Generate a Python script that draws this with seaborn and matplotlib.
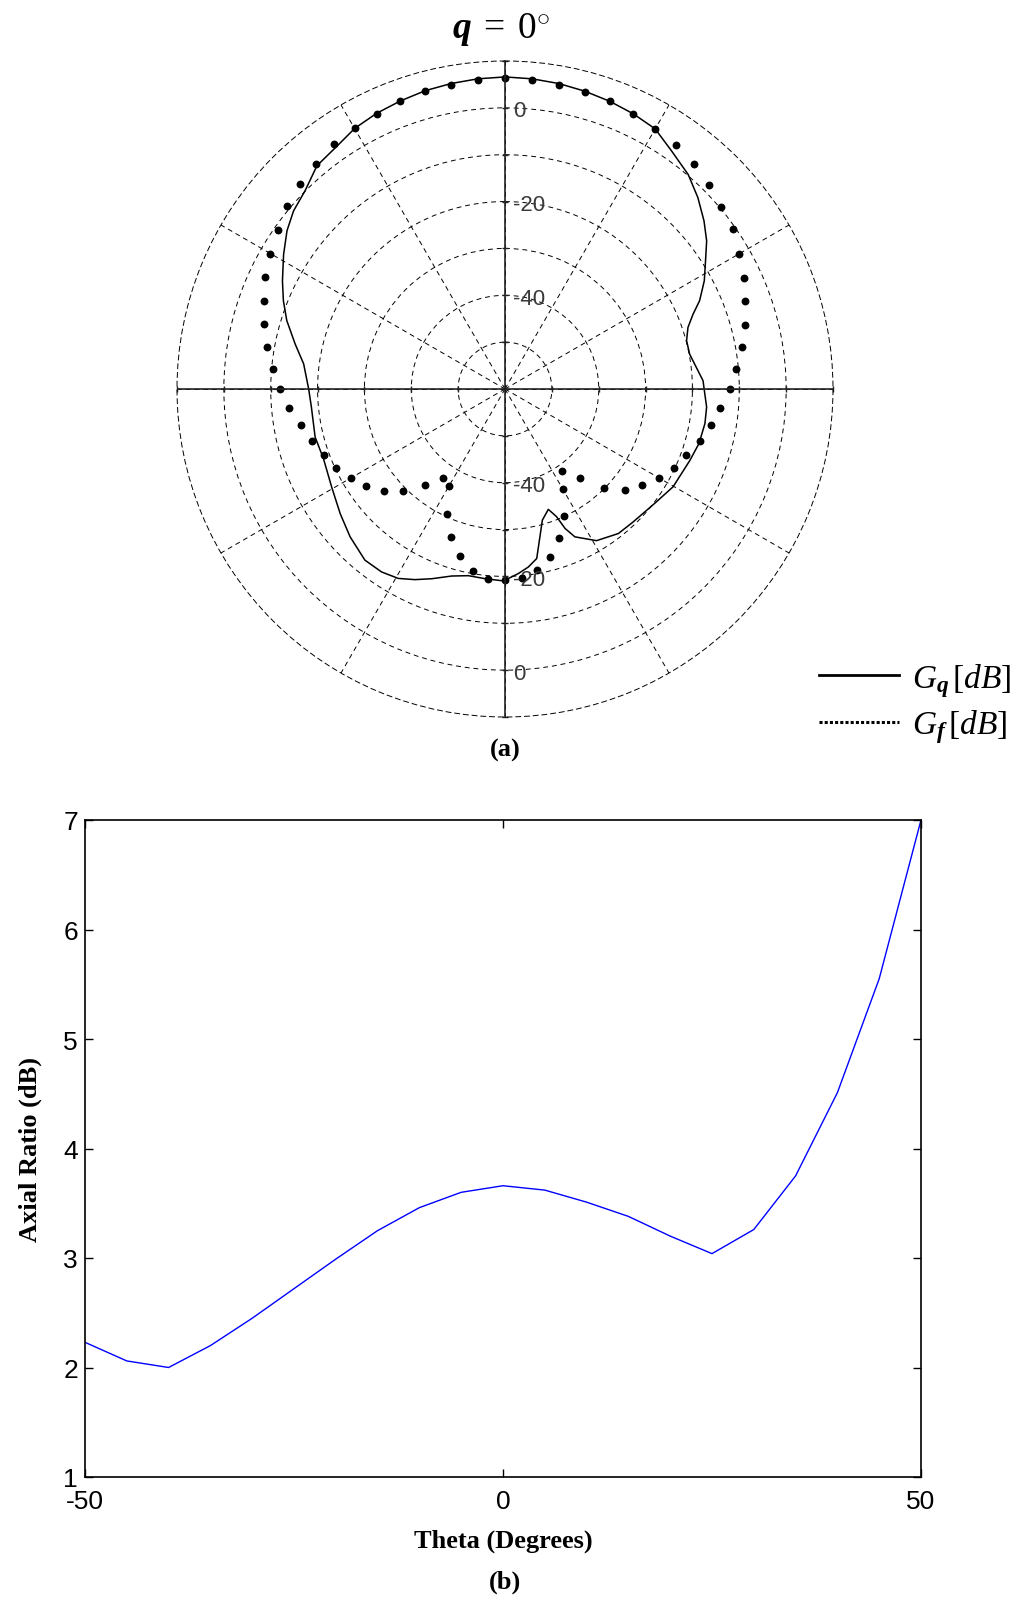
import numpy as np
import pandas as pd
import matplotlib
matplotlib.use("Agg")
import matplotlib.pyplot as plt
import seaborn as sns
from matplotlib.lines import Line2D
from matplotlib.transforms import offset_copy

# ---------------- data ----------------
# (a) radiation pattern, angle measured from zenith (clockwise positive), gain in dB
g_phi_angle = np.arange(-175, 181, 5)
g_phi_db = [-19.4, -20.6, -23.0, -26.4, -30.6, -36.0, -36.9, -33.3, -29.3, -26.3,
            -23.9, -22.0, -20.2, -18.8, -17.4, -15.7, -13.8, -12.0, -10.4, -8.4,
            -6.8, -5.3, -3.6, -2.2, -0.8, 0.7, 1.9, 2.8, 3.7, 4.2,
            4.8, 5.3, 5.8, 5.9, 6.2, 6.3, 6.1, 5.8, 5.7, 5.3,
            4.8, 4.0, 3.5, 2.6, 1.6, 0.3, -0.6, -2.3, -3.7, -5.4,
            -6.9, -8.6, -10.6, -12.0, -13.9, -15.4, -17.0, -18.8, -20.2, -22.1,
            -24.2, -26.6, -30.1, -35.1, -38.7, -35.4, -30.1, -26.1, -22.8, -20.8,
            -19.5, -19.2]

g_theta_angle = [-180, -174, -168.9, -164.1, -158.9, -154.7, -150.6, -146, -140.7, -133.7,
                 -127.1, -119.5, -111, -104.2, -95.3, -90, -82.9, -77.9, -72.6, -68.3,
                 -64.1, -58.7, -54, -49.9, -45.2, -40.1, -34.3, -30, -25, -20,
                 -15, -10, -5, 0, 5, 10, 15, 20, 25, 30,
                 35, 40.5, 45.2, 49.8, 53.7, 57.4, 61.5, 65.6, 68.3, 71.4,
                 75.1, 79.3, 83.6, 87.6, 90, 95.1, 99.8, 105.7, 111.1, 120.2,
                 127.4, 136.2, 141.9, 148.9, 154.7, 156.7, 158, 160.2, 164.1, 166.7,
                 169.4, 172.5, 175.9, 180]
g_theta_db = [-19.0, -19.3, -19.4, -18.5, -16.6, -15.0, -13.6, -12.9, -12.8, -14.3,
              -15.9, -17.5, -18.5, -18.2, -18.5, -18.1, -16.7, -14.2, -11.2, -9.1,
              -7.2, -4.7, -2.5, -1.0, 0.1, 2.3, 3.1, 4.2, 4.9, 5.4,
              5.9, 6.2, 6.45, 6.6, 6.45, 6.2, 5.8, 5.35, 4.8, 4.1,
              2.0, 0.2, -2.0, -4.4, -6.6, -9.2, -11.6, -14.4, -16.8, -18.8,
              -19.9, -19.9, -18.9, -17.7, -17.5, -16.8, -16.7, -17.0, -17.7, -18.5,
              -19.8, -20.6, -20.8, -22.2, -25.1, -27.6, -30.6, -32.7, -30.9, -27.6,
              -23.2, -21.7, -20.5, -19.2]

ring_labels = ["0", "-20", "-40"]
ring_values = [0, -20, -40]

# (b) axial ratio
ar_theta = [-50, -45, -40, -35, -30, -25, -20, -15, -10, -5, 0,
            5, 10, 15, 20, 25, 30, 35, 40, 45, 50]
ar_db = [2.23, 2.06, 2.0, 2.2, 2.45, 2.72, 2.99, 3.25, 3.46, 3.60, 3.66,
         3.62, 3.51, 3.38, 3.20, 3.04, 3.26, 3.75, 4.51, 5.55, 7.0]
ar_xticks = [-50, 0, 50]
ar_yticks = [1, 2, 3, 4, 5, 6, 7]

# ---------------- style ----------------
plt.rcParams["mathtext.fontset"] = "custom"
plt.rcParams["mathtext.rm"] = "Liberation Serif"
plt.rcParams["mathtext.it"] = "Liberation Serif:italic"
plt.rcParams["mathtext.bf"] = "Liberation Serif:bold:italic"
plt.rcParams["font.family"] = ["Liberation Sans", "DejaVu Sans"]
plt.rcParams["axes.unicode_minus"] = False

W, H = 1013, 1606
fig = plt.figure(figsize=(W / 100, H / 100), dpi=100)

# ---------------- (a) polar ----------------
cx, cy, R = 505, 390, 328
axp = fig.add_axes([(cx - R) / W, 1 - (cy + R) / H, 2 * R / W, 2 * R / H], projection="polar")
axp.set_theta_zero_location("N")
axp.set_theta_direction(-1)

df_phi = pd.DataFrame({"ang": np.deg2rad(g_phi_angle), "db": g_phi_db})
df_theta = pd.DataFrame({"ang": np.deg2rad(g_theta_angle), "db": g_theta_db})

sns.lineplot(data=df_theta, x="ang", y="db", ax=axp, sort=False, estimator=None,
             color="black", linewidth=1.1, legend=False)
sns.scatterplot(data=df_phi, x="ang", y="db", ax=axp, color="black", s=32,
                linewidth=0, marker="o", legend=False)

axp.set_rlim(-60, 10)
axp.set_yticks([-50, -40, -30, -20, -10, 0])
axp.set_yticklabels([])
axp.set_xticks(np.deg2rad(np.arange(0, 360, 30)))
axp.set_xticklabels([])
axp.grid(True, color="black", linestyle=(0, (5, 4)), linewidth=0.7)
axp.spines["polar"].set_linestyle((0, (5, 4)))
axp.spines["polar"].set_linewidth(0.7)
axp.set_xlabel("")
axp.set_ylabel("")
for a in [0, 90, 180, 270]:
    axp.axvline(np.deg2rad(a), color="#222222", linewidth=1.2, zorder=3)
tick_r = [-50, -40, -30, -20, -10, 0, 10]
for a, m in [(0, "_"), (180, "_"), (90, "|"), (270, "|")]:
    axp.plot(np.full(len(tick_r), np.deg2rad(a)), tick_r, linestyle="none",
             marker=m, markersize=5, color="#222222", markeredgewidth=1.0, clip_on=False)

lab_tr = offset_copy(axp.transData, fig=fig, x=8, y=-3, units="dots")
for s, v in zip(ring_labels, ring_values):
    axp.text(0, v, s, transform=lab_tr, ha="left", va="center", fontsize=16,
             color="#3a3a3a", family="Liberation Sans", zorder=4)
    axp.text(np.pi, v, s, transform=lab_tr, ha="left", va="center", fontsize=16,
             color="#3a3a3a", family="Liberation Sans", zorder=4)

fig.text(501 / W, 1 - 38 / H, r"$\mathbf{q}\;=\;0^{\circ}$", ha="center", va="baseline",
         fontsize=27)
fig.text(505 / W, 1 - 750 / H, "(a)", ha="center", va="center", fontsize=19,
         weight="bold", family="Liberation Serif")

handles = [Line2D([], [], color="black", linewidth=2.0),
           Line2D([], [], color="black", linewidth=2.2, linestyle=(0, (1, 0.7)))]
fig.legend(handles, [r"$G_{\mathbf{q}}\,[dB]$", r"$G_{\mathbf{f}}\,[dB]$"],
           loc="upper left", bbox_to_anchor=(819 / W, 1 - 662 / H), frameon=False,
           fontsize=24, handlelength=2.4, handletextpad=0.4, borderpad=0,
           borderaxespad=0, labelspacing=0.25)

# ---------------- (b) axial ratio ----------------
ax2 = fig.add_axes([85 / W, 1 - 1478 / H, 836 / W, 657 / H])
df_ar = pd.DataFrame({"theta": ar_theta, "ar": ar_db})
sns.lineplot(data=df_ar, x="theta", y="ar", ax=ax2, color="#0000ff", linewidth=1.0,
             legend=False)
ax2.set_xlim(-50, 50)
ax2.set_ylim(1, 7)
ax2.set_xticks(ar_xticks)
ax2.set_yticks(ar_yticks)
ax2.tick_params(direction="in", length=6, width=1.0, top=True, right=True,
                labelsize=19, colors="black")
ax2.tick_params(axis="x", pad=9)
ax2.tick_params(axis="y", pad=5)
for sp in ax2.spines.values():
    sp.set_linewidth(1.2)
    sp.set_color("black")
ax2.set_xlabel("Theta (Degrees)", fontsize=19, weight="bold", family="Liberation Serif",
               labelpad=11)
ax2.set_ylabel("Axial Ratio (dB)", fontsize=19, weight="bold", family="Liberation Serif",
               labelpad=15)
fig.text(505 / W, 1 - 1582 / H, "(b)", ha="center", va="center", fontsize=19,
         weight="bold", family="Liberation Serif")

fig.savefig("out.png", dpi=100)
